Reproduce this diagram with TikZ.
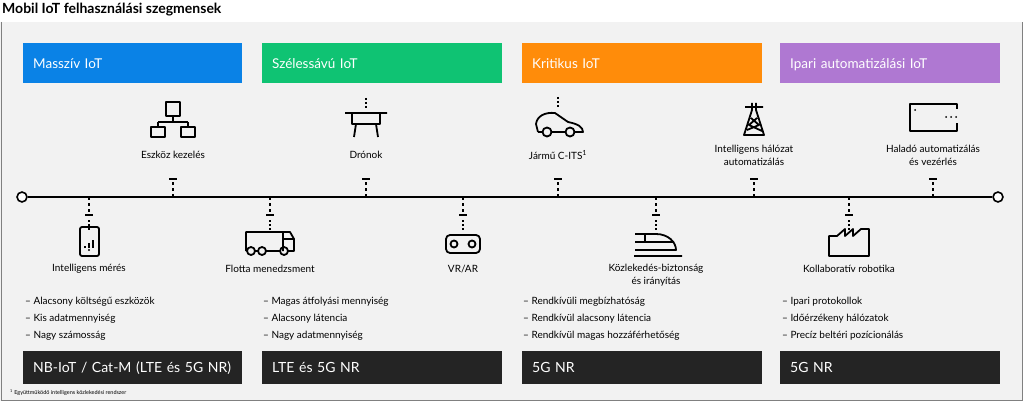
\documentclass[tikz,border=0pt]{standalone}
\usepackage{fontspec}
\setmainfont{Lato}
\usetikzlibrary{positioning}
\definecolor{panelgrey}{HTML}{F2F2F2}
\definecolor{massblue}{HTML}{0A82E6}
\definecolor{broadgreen}{HTML}{0FC373}
\definecolor{critorange}{HTML}{FF8C0A}
\definecolor{indpurple}{HTML}{AF78D2}
\definecolor{bardark}{HTML}{242424}
\tikzset{
  head/.style={minimum height=40pt,text=white,font=\fontsize{13.5}{15}\selectfont,inner xsep=10pt,anchor=north west,text depth=0pt},
  tech/.style={fill=bardark,minimum height=33pt,text=white,font=\fontsize{14}{16}\selectfont,inner xsep=10pt,anchor=north west},
  lbl/.style={font=\fontsize{10}{13}\selectfont,align=center,inner sep=1pt},
  item/.style={font=\fontsize{10}{17}\selectfont,align=left,anchor=north west,inner sep=0pt},
  icon/.style={line width=1.8pt,line join=round},
  tick/.style={line width=1.6pt,dash pattern=on 3pt off 3pt}
}
\begin{document}
\begin{tikzpicture}[x=1pt,y=-1pt]
  \useasboundingbox (0,0) rectangle (1023,401);
  \fill[panelgrey] (0,22) rectangle (1023,401);
  \draw[gray,line width=1pt] (1,22) -- (1,400) -- (1022,400) -- (1022,22);
  \node[anchor=west,font=\bfseries\fontsize{14}{16}\selectfont,inner sep=0pt] (title) at (2,10) {Mobil IoT felhasználási szegmensek};
  % segment headers
  \node[head,fill=massblue,minimum width=219pt,text width=199pt] (hmass) at (23,43) {Masszív IoT};
  \node[head,fill=broadgreen,minimum width=240pt,text width=220pt] (hbroad) at (262,43) {Szélessávú IoT};
  \node[head,fill=critorange,minimum width=240pt,text width=220pt] (hcrit) at (522,43) {Kritikus IoT};
  \node[head,fill=indpurple,minimum width=220pt,text width=200pt] (hind) at (780,43) {Ipari automatizálási IoT};
  % timeline
  \node[circle,draw,line width=1.6pt,fill=white,inner sep=3.5pt] (tstart) at (22,197) {};
  \node[circle,draw,line width=1.6pt,fill=white,inner sep=3.5pt] (tend) at (998,197) {};
  \draw[line width=2pt] (tstart) -- (tend);
  % ticks above / below
  \foreach \x in {173,366,558,754,933}{
    \draw[tick] (\x,197) -- (\x,181);
    \draw[line width=1.6pt] (\x-4,179) -- (\x+4,179);}
  \foreach \x in {89,270,463,656,849}{
    \draw[tick] (\x,197) -- (\x,213);
    \draw[line width=1.6pt] (\x-4,215) -- (\x+4,215);
    \draw[line width=1.6pt,dash pattern=on 2pt off 2pt] (\x,220) -- (\x,230);}
  % upper labels
  \node[lbl] (lmgmt) at (173,155) {Eszköz kezelés};
  \node[lbl] (ldrone) at (366,155) {Drónok};
  \node[lbl] (lcar) at (558,155) {Jármű C-ITS\textsuperscript{1}};
  \node[lbl] (lgrid) at (754,155) {Intelligens hálózat\\automatizálás};
  \node[lbl] (lauto) at (933,155) {Haladó automatizálás\\és vezérlés};
  % lower labels
  \node[lbl] (lmeter) at (89,269) {Intelligens mérés};
  \node[lbl] (lfleet) at (270,269) {Flotta menedzsment};
  \node[lbl] (lvr) at (463,269) {VR/AR};
  \node[lbl] (ltraffic) at (656,275) {Közlekedés-biztonság\\és irányítás};
  \node[lbl] (lrobot) at (849,269) {Kollaboratív robotika};
  % icons
  \begin{scope}[icon]
    % device management
    \draw (166,102) rectangle (180,116) (173,116) -- (173,122) (158,122) -- (188,122)
          (158,122) -- (158,127) (188,122) -- (188,127)
          (151,127) rectangle (165,137) (181,127) rectangle (195,137);
    % drone
    \draw (345,113) -- (357,113) (375,113) -- (387,113) (351,113) -- (381,113)
          (352,113) rectangle (380,124) (356,124) -- (354,137) (376,124) -- (378,137);
    \draw[line width=1.6pt,dash pattern=on 2pt off 2pt] (366,98) -- (366,108);
    % car
    \draw (538,132) -- (536,124) .. controls (537,116) and (545,112) .. (555,113) -- (568,122)
          .. controls (578,124) and (583,127) .. (583,132) -- (574,132) (565,132) -- (551,132) (542,132) -- (538,132);
    \draw (547,132) circle (4.5pt) (570,132) circle (4.5pt);
    \draw[line width=1.6pt,dash pattern=on 2pt off 2pt] (558,97) -- (558,107);
    % grid tower
    \draw (745,107) -- (763,107) (752,103) -- (752,110) (756,103) -- (756,110)
          (752,110) -- (744,135) -- (764,135) -- (756,110)
          (751,118) -- (759,125) -- (747,130) (757,118) -- (749,125) -- (762,131);
    % advanced automation
    \draw (957,109) -- (957,104) -- (910,104) -- (910,131) -- (957,131) -- (957,123);
    \fill (915,110) circle (1pt) (946,117) circle (1pt) (951,117) circle (1pt) (956,117) circle (1pt);
    % smart meter
    \draw[rounded corners=2pt] (80,227) rectangle (99,256);
    \draw (85,248) -- (85,246) (89,248) -- (89,243) (93,248) -- (93,240);
    \fill (89,250) circle (1.2pt);
    % truck
    \draw (246,251) -- (246,232) -- (283,232) -- (283,251) (255,251) -- (258,251) (266,251) -- (280,251)
          (283,232) -- (290,232) -- (294,239) -- (294,251) -- (288,251) (283,239) -- (294,239);
    \draw (251,251) circle (4pt) (262,251) circle (4pt) (284,251) circle (4pt);
    % VR headset
    \draw[rounded corners=4pt] (446,235) rectangle (480,253);
    \draw (454,244) circle (3.5pt) (472,244) circle (3.5pt);
    % train
    \draw (635,234) -- (656,234) .. controls (668,234) and (676,242) .. (676,250) -- (635,250)
          (635,242) -- (674,242) (645,234) -- (645,242) (634,256) -- (682,256);
    % factory
    \draw (829,256) -- (829,236) -- (837,236) -- (845,229) -- (845,236) -- (853,229) -- (853,236) -- (861,229) -- (869,229) -- (869,256) -- cycle;
  \end{scope}
  % bullet lists
  \node[item] (bmass) at (25,297) {-- Alacsony költségű eszközök\\-- Kis adatmennyiség\\-- Nagy számosság};
  \node[item] (bbroad) at (263,297) {-- Magas átfolyási mennyiség\\-- Alacsony látencia\\-- Nagy adatmennyiség};
  \node[item] (bcrit) at (523,297) {-- Rendkívüli megbízhatóság\\-- Rendkívül alacsony látencia\\-- Rendkívül magas hozzáférhetőség};
  \node[item] (bind) at (782,297) {-- Ipari protokollok\\-- Időérzékeny hálózatok\\-- Precíz beltéri pozícionálás};
  % technology bars
  \node[tech,minimum width=219pt,text width=199pt] (tmass) at (23,351) {NB-IoT / Cat-M (LTE és 5G NR)};
  \node[tech,minimum width=240pt,text width=220pt] (tbroad) at (262,351) {LTE és 5G NR};
  \node[tech,minimum width=240pt,text width=220pt] (tcrit) at (522,351) {5G NR};
  \node[tech,minimum width=220pt,text width=200pt] (tind) at (780,351) {5G NR};
  \node[anchor=west,font=\fontsize{5.5}{6}\selectfont,inner sep=0pt] (foot) at (10,393) {\textsuperscript{1} Együttműködő intelligens közlekedési rendszer};
\end{tikzpicture}
\end{document}
